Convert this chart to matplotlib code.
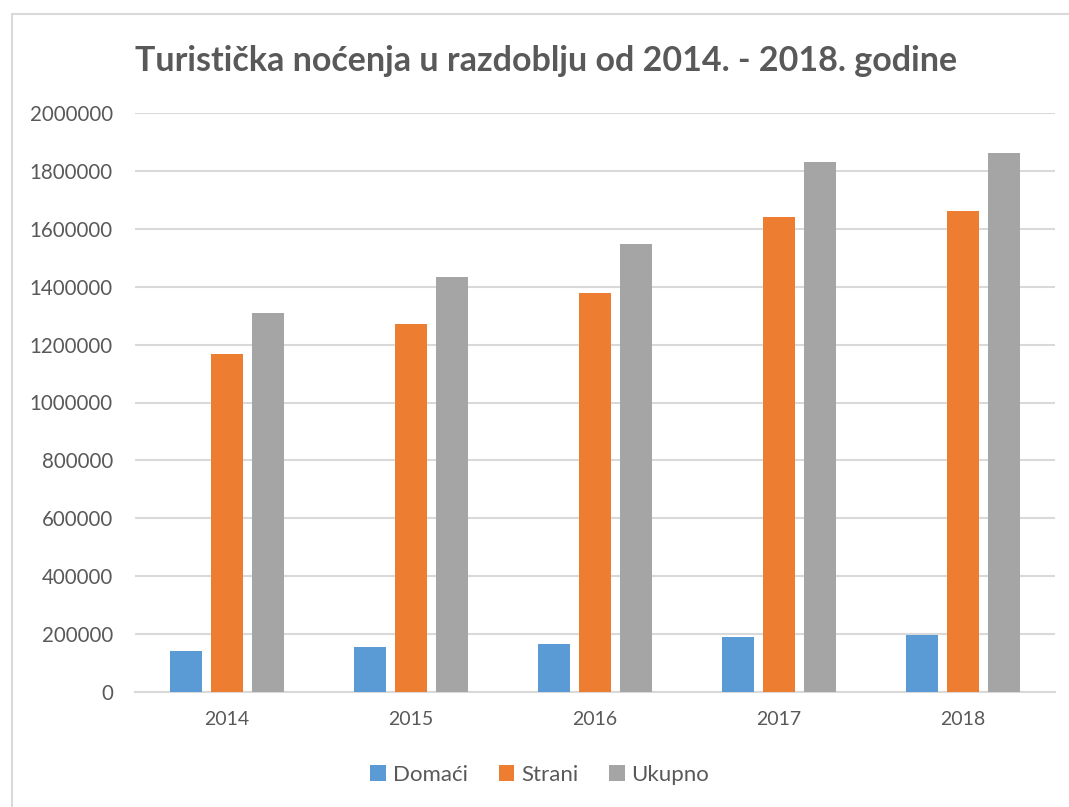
import matplotlib.pyplot as plt
import numpy as np
from matplotlib.patches import Rectangle

plt.rcParams['font.family'] = ['Lato', 'DejaVu Sans']

years = ['2014', '2015', '2016', '2017', '2018']
domaci = [140600, 156800, 167000, 189000, 196300]
strani = [1166500, 1272500, 1379600, 1639700, 1663000]
ukupno = [1308000, 1432500, 1546500, 1829700, 1863000]

txt = '#595959'
grid = '#d9d9d9'

fig = plt.figure(figsize=(10.69, 8.07), dpi=100)
fig.patches.append(Rectangle((12 / 1069, -0.1), 1.2, (807 - 14) / 807 + 0.1,
                             transform=fig.transFigure, fill=False,
                             edgecolor=grid, linewidth=1.5))

ax = fig.add_axes([135 / 1069, (807 - 692) / 807, 920 / 1069, 579 / 807])
x = np.arange(len(years))
w = 0.174
step = 0.223
ax.bar(x - step, domaci, w, color='#5B9BD5', label='Domaći', zorder=3)
ax.bar(x, strani, w, color='#ED7D31', label='Strani', zorder=3)
ax.bar(x + step, ukupno, w, color='#A5A5A5', label='Ukupno', zorder=3)

ax.set_xlim(-0.5, len(years) - 0.5)
ax.set_ylim(0, 2000000)
ax.set_yticks(np.arange(0, 2000001, 200000))
ax.set_yticklabels([str(v) for v in range(0, 2000001, 200000)])
ax.set_xticks(x)
ax.set_xticklabels(years)
ax.yaxis.grid(True, color=grid, linewidth=1.5, zorder=0)
for s in ['top', 'right', 'left']:
    ax.spines[s].set_visible(False)
ax.spines['bottom'].set_color(grid)
ax.spines['bottom'].set_linewidth(1.5)
ax.tick_params(axis='both', length=0, colors=txt, labelsize=14)
ax.tick_params(axis='y', pad=16, labelsize=14.8)
ax.tick_params(axis='x', pad=14)

fig.text(0.511, (807 - 61) / 807, 'Turistička noćenja u razdoblju od 2014. - 2018. godine',
         ha='center', va='center', fontsize=24.5, fontweight='bold', color=txt)

fig.legend(loc='center', bbox_to_anchor=(0.505, (807 - 775) / 807), ncol=3,
           frameon=False, fontsize=16, labelcolor=txt, handlelength=0.7,
           handleheight=0.7, handletextpad=0.3, columnspacing=1.4)

plt.savefig('out.png', dpi=100)
plt.close()
